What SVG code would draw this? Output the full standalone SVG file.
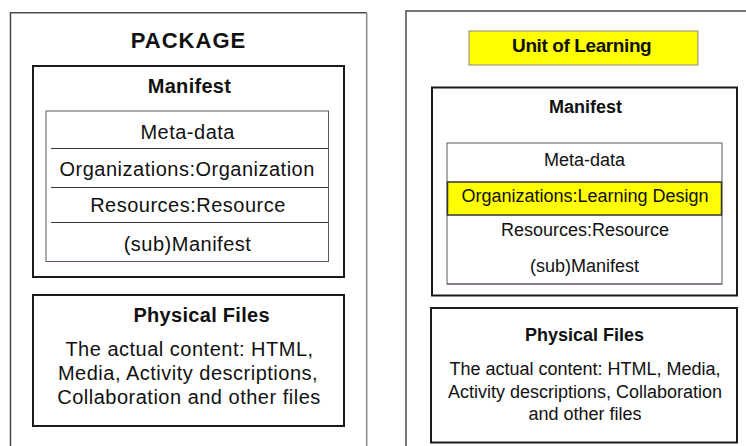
<svg xmlns="http://www.w3.org/2000/svg" width="746" height="446" viewBox="0 0 746 446">
  <style>
    text { font-family: "Liberation Sans", Arial, sans-serif; fill: #111; text-anchor: middle; }
    .big { font-size: 20px; letter-spacing: 0.5px; }
    .big-b { font-size: 20px; font-weight: bold; letter-spacing: 0.3px; }
    .title { font-size: 22px; font-weight: bold; letter-spacing: 1px; }
    .small { font-size: 18px; }
    .small-b { font-size: 18px; font-weight: bold; }
    .uol { font-size: 19px; font-weight: bold; letter-spacing: -0.4px; }
    .frame { fill: #fff; stroke: #1a1a1a; stroke-width: 2; }
    .table { fill: #fff; stroke: #5a5a5a; stroke-width: 1; }
    .rule { stroke: #333; stroke-width: 1; fill: none; }
    .hl { fill: #ffff00; }
  </style>

  <rect width="746" height="446" fill="#fff"/>

  <!-- Package (left column) -->
  <g id="package">
    <path d="M10.5 450 V12.7 H366.7" fill="none" stroke="#4a4a4a" stroke-width="1.5"/>
    <path d="M366.7 12.7 V450" fill="none" stroke="#8a8a8a" stroke-width="1.5"/>
    <text class="title" x="188.5" y="48.3">PACKAGE</text>
  </g>

  <g id="package-manifest">
    <rect class="frame" x="33" y="66" width="311" height="211"/>
    <text class="big-b" x="189.5" y="93.3">Manifest</text>
  </g>

  <g id="package-manifest-table">
    <rect class="table" x="46" y="111" width="282.5" height="150.5"/>
    <path d="M46 261.5 H328.5" stroke="#6a4a6a" stroke-width="1.2" fill="none"/>
    <path class="rule" d="M51 148.5 H328.5 M51 187.5 H328.5 M51 222.5 H328.5"/>
    <text class="big" x="187.7" y="139">Meta-data</text>
    <text class="big" x="187.2" y="175.5">Organizations:Organization</text>
    <text class="big" x="188" y="212">Resources:Resource</text>
    <text class="big" x="187.5" y="251">(sub)Manifest</text>
  </g>

  <g id="package-files">
    <rect class="frame" x="33" y="295" width="311" height="131"/>
    <text class="big-b" x="201.7" y="322">Physical Files</text>
    <text class="big" x="189.5" y="356">The actual content: HTML,</text>
    <text class="big" x="188" y="380">Media, Activity descriptions,</text>
    <text class="big" x="189" y="404">Collaboration and other files</text>
  </g>

  <!-- Unit of Learning (right column) -->
  <g id="uol">
    <path d="M406 450 V11 H750" fill="none" stroke="#4a4a4a" stroke-width="1.5"/>
  </g>

  <g id="uol-title">
    <rect class="hl" x="469" y="31" width="229" height="34" stroke="#888" stroke-width="1"/>
    <text class="uol" x="581.7" y="52">Unit of Learning</text>
  </g>

  <g id="uol-manifest">
    <rect class="frame" x="432" y="87.5" width="305" height="208"/>
    <text class="small-b" x="585.5" y="112.7">Manifest</text>
  </g>

  <g id="uol-manifest-table">
    <rect class="table" x="447" y="143" width="275" height="141"/>
    <path d="M447 284 H722" stroke="#6a4a6a" stroke-width="1.2" fill="none"/>
    <rect class="hl" x="447.5" y="182" width="274" height="33" stroke="#333" stroke-width="1.5"/>
    <text class="small" x="584.5" y="165.7">Meta-data</text>
    <text class="small" x="585" y="202">Organizations:Learning Design</text>
    <text class="small" x="585" y="236">Resources:Resource</text>
    <text class="small" x="584.5" y="272">(sub)Manifest</text>
  </g>

  <g id="uol-files">
    <rect class="frame" x="431" y="308" width="306" height="134.5"/>
    <text class="small-b" x="584.5" y="340.7">Physical Files</text>
    <text class="small" x="585" y="375">The actual content: HTML, Media,</text>
    <text class="small" x="585" y="397.5">Activity descriptions, Collaboration</text>
    <text class="small" x="585" y="420">and other files</text>
  </g>

  <!-- no connectors in this figure -->
  <g id="connectors"/>
</svg>
